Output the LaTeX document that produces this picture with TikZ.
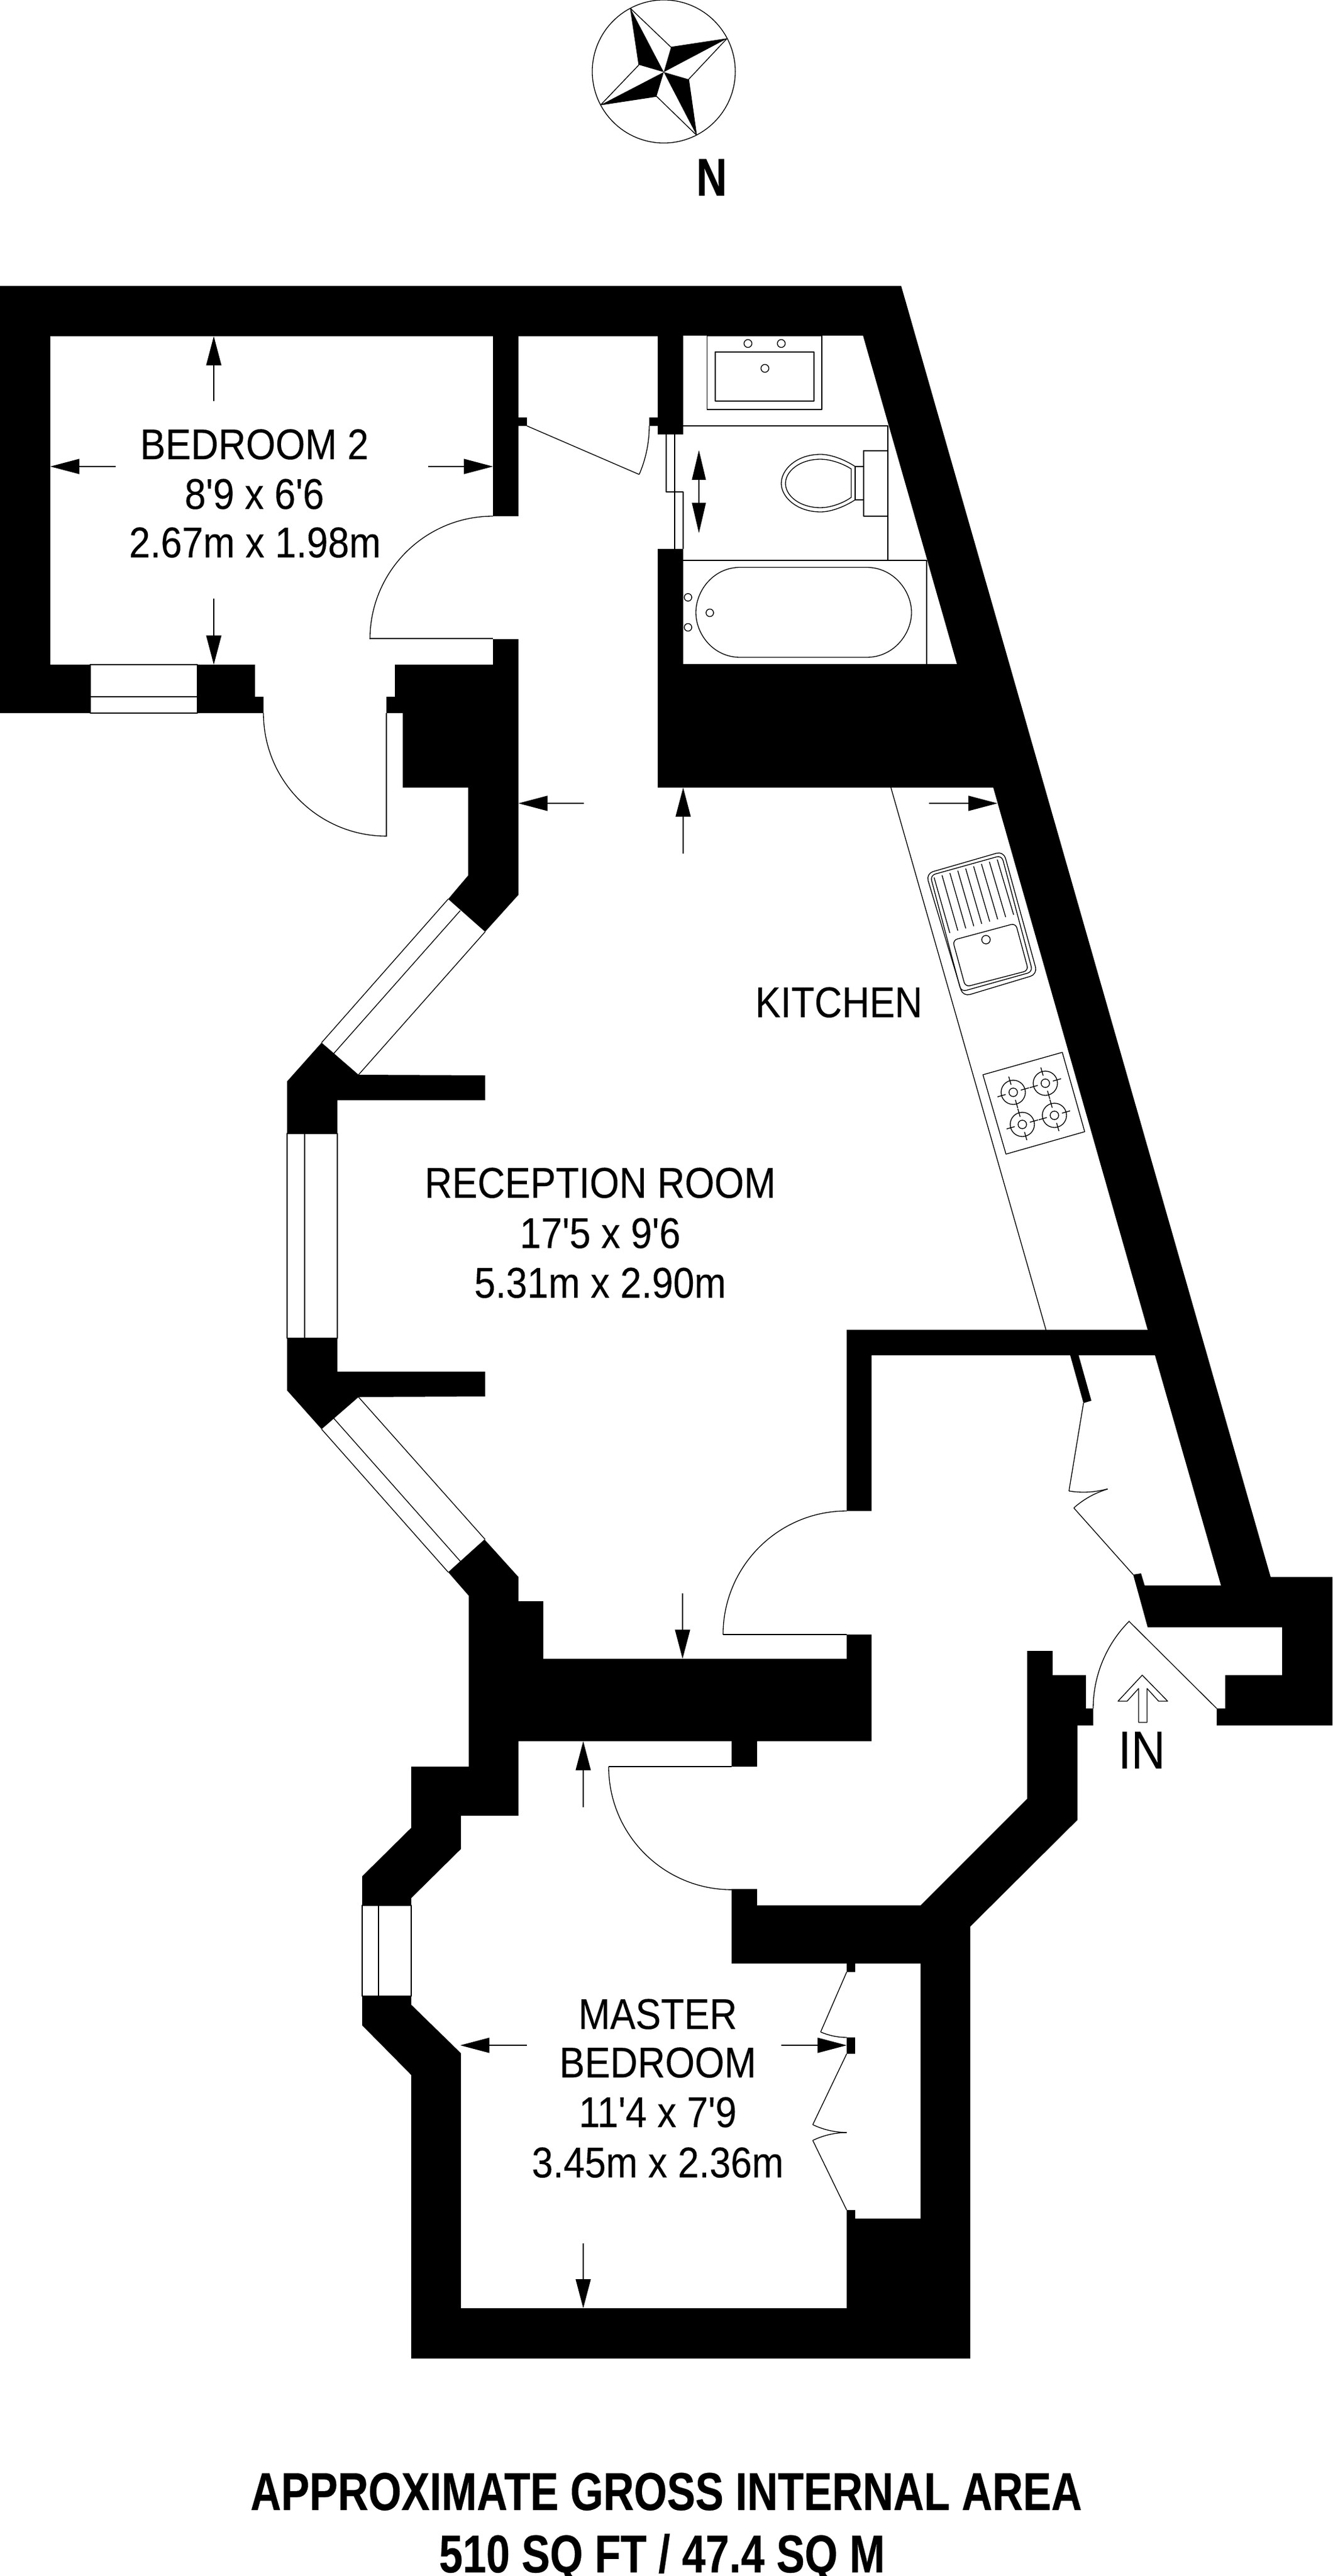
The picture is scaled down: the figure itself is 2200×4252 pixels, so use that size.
\documentclass[tikz,border=0pt]{standalone}
\usepackage{fontspec}
\usetikzlibrary{arrows.meta}
\newfontfamily\labelfont[FakeStretch=0.885,FakeBold=0.12]{Liberation Sans}
\newfontfamily\titlefont[FakeStretch=0.797,FakeBold=0.3]{Liberation Sans}
\tikzset{
  wall/.style={fill=black,draw=none},
  fixture/.style={draw=black,line width=0.38pt,line join=round},
  dimline/.style={draw=black,line width=0.32pt,-{Triangle[length=0.48cm,width=0.25cm]}},
  dimboth/.style={draw=black,line width=0.32pt,{Triangle[length=0.49cm,width=0.23cm]}-{Triangle[length=0.5cm,width=0.23cm]}},
  roomtext/.style={font=\labelfont\fontsize{20.2}{23}\selectfont,inner sep=0pt,anchor=base},
  bigtext/.style={font=\titlefont\bfseries\fontsize{25}{28}\selectfont,inner sep=0pt,anchor=base}
}
\begin{document}
\begin{tikzpicture}[x=0.01cm,y=-0.01cm]
\useasboundingbox (0,0) rectangle (2200,4252);
\fill[white] (0,0) rectangle (2200,4252);

% ---- compass
\draw[fixture] (1096,118) circle[radius=1.18cm];
\coordinate (cc) at (1096,119);
\coordinate (p1) at (1041,14); \coordinate (p2) at (1200,64);
\coordinate (p3) at (1150,223); \coordinate (p4) at (992,173);
\coordinate (n1) at (1108,78); \coordinate (n2) at (1137,131);
\coordinate (n3) at (1084,159); \coordinate (n4) at (1055,107);
\fill[black] (p1) -- (n4) -- (cc) -- cycle;
\fill[black] (p2) -- (n1) -- (cc) -- cycle;
\fill[black] (p3) -- (n2) -- (cc) -- cycle;
\fill[black] (p4) -- (n3) -- (cc) -- cycle;
\draw[fixture] (p1) -- (n1) -- (p2) -- (n2) -- (p3) -- (n3) -- (p4) -- (n4) -- cycle;
\node[bigtext] (north) at (1175,323) {N};

% ---- walls
\fill[wall] (0,472) -- (1488,472) -- (2098,2603) -- (2200,2603) -- (2200,2848) -- (2009,2848) -- (2009,2820)
  -- (2023,2820) -- (2023,2765) -- (2117,2765) -- (2117,2686) -- (1895,2686) -- (1871,2599) -- (1884,2597)
  -- (1890,2617) -- (2016,2617) -- (1907,2237) -- (1781,2237) -- (1802,2312) -- (1789,2316) -- (1767,2237)
  -- (1439,2237) -- (1439,2494) -- (1398,2494) -- (1398,2195) -- (1895,2195) -- (1640,1300) -- (1086,1300)
  -- (1086,906) -- (1128,906) -- (1128,1096) -- (1580,1096) -- (1425,554) -- (1128,554) -- (1128,717)
  -- (1086,717) -- (1086,703) -- (1072,703) -- (1072,689) -- (1086,689) -- (1086,555) -- (856,555)
  -- (856,689) -- (870,689) -- (870,703) -- (856,703) -- (856,852) -- (814,852) -- (814,555) -- (83,555)
  -- (83,1097) -- (149,1097) -- (149,1177) -- (0,1177) -- cycle;
\fill[wall] (326,1097) -- (421,1097) -- (421,1150) -- (435,1150) -- (435,1177) -- (326,1177) -- cycle;
\fill[wall] (652,1097) -- (814,1097) -- (814,1055) -- (856,1055) -- (856,1477) -- (801,1538) -- (740,1484)
  -- (773,1445) -- (773,1300) -- (665,1300) -- (665,1177) -- (638,1177) -- (638,1150) -- (652,1150) -- cycle;
\fill[wall] (531,1721) -- (592,1774) -- (801,1775) -- (801,1816) -- (557,1816) -- (557,1871) -- (474,1871) -- (474,1785) -- cycle;
\fill[wall] (474,2209) -- (557,2209) -- (557,2264) -- (801,2264) -- (801,2305) -- (592,2306) -- (531,2359) -- (474,2295) -- cycle;
\fill[wall] (740,2595) -- (800,2541) -- (856,2603) -- (856,2643) -- (897,2643) -- (897,2738) -- (1398,2738)
  -- (1398,2698) -- (1439,2698) -- (1439,2874) -- (1250,2874) -- (1250,2916) -- (1208,2916) -- (1208,2874)
  -- (856,2874) -- (856,2997) -- (761,2997) -- (761,3052) -- (679,3133) -- (679,3145) -- (598,3145)
  -- (598,3097) -- (679,3017) -- (679,2916) -- (774,2916) -- (774,2634) -- cycle;
\fill[wall] (598,3295) -- (679,3295) -- (679,3309) -- (761,3389) -- (761,3810) -- (1398,3810) -- (1398,3648)
  -- (1412,3648) -- (1412,3662) -- (1520,3662) -- (1520,3241) -- (1412,3241) -- (1412,3255) -- (1398,3255)
  -- (1398,3241) -- (1208,3241) -- (1208,3118) -- (1250,3118) -- (1250,3145) -- (1520,3145) -- (1696,2969)
  -- (1696,2725) -- (1738,2725) -- (1738,2765) -- (1793,2765) -- (1793,2820) -- (1805,2820) -- (1805,2848)
  -- (1779,2848) -- (1779,3004) -- (1602,3180) -- (1602,3893) -- (679,3893) -- (679,3425) -- (598,3343) -- cycle;
\fill[wall] (1398,3363) rectangle (1412,3390);

% ---- windows
\draw[fixture] (149,1097) rectangle (326,1177);
\draw[fixture] (149,1150) -- (326,1150);
\draw[fixture] (474,1871) rectangle (557,2209);
\draw[fixture] (503,1871) -- (503,2209);
\draw[fixture] (598,3145) rectangle (679,3295);
\draw[fixture] (625,3145) -- (625,3295);
\draw[fixture] (740,1484) -- (531,1721);
\draw[fixture] (760,1503) -- (551,1739);
\draw[fixture] (801,1538) -- (592,1774);
\draw[fixture] (740,2595) -- (531,2359);
\draw[fixture] (760,2577) -- (551,2341);
\draw[fixture] (801,2541) -- (592,2306);

% ---- doors
\draw[fixture] (611,1054) -- (814,1054);
\draw[fixture] (814,852) arc[start angle=90,end angle=180,radius=2.03cm];
\draw[fixture] (638,1177) -- (638,1381);
\draw[fixture] (435,1177) arc[start angle=180,end angle=270,radius=2.03cm];
\draw[fixture] (870,703) -- (1055,783);
\draw[fixture] (1072,703) arc[start angle=0,end angle=-23.4,radius=2.02cm];
\draw[fixture] (1194,2698) -- (1398,2698);
\draw[fixture] (1398,2494) arc[start angle=90,end angle=180,radius=2.04cm];
\draw[fixture] (1005,2916) -- (1208,2916);
\draw[fixture] (1005,2916) arc[start angle=180,end angle=270,radius=2.03cm];
\draw[fixture] (2009,2820) -- (1864,2676);
\draw[fixture] (1805,2820) arc[start angle=180,end angle=135,radius=2.04cm];
% closet doors, master bedroom
\draw[fixture] (1398,3255) -- (1355,3354);
\draw[fixture] (1355,3354) arc[start angle=246.5,end angle=270,radius=1.08cm];
\draw[fixture] (1398,3390) -- (1342,3507);
\draw[fixture] (1342,3507) arc[start angle=244.4,end angle=270,radius=1.30cm];
\draw[fixture] (1398,3648) -- (1342,3533);
\draw[fixture] (1342,3533) arc[start angle=116,end angle=90,radius=1.28cm];
% cupboard doors, hall
\draw[fixture] (1789,2316) -- (1765,2461);
\draw[fixture] (1765,2461) arc[start angle=260.6,end angle=285.7,radius=1.47cm];
\draw[fixture] (1871,2599) -- (1773,2489);
\draw[fixture] (1773,2489) arc[start angle=131.7,end angle=106.6,radius=1.47cm];

% ---- bathroom
\draw[fixture] (1167.5,554) rectangle (1357,676);
\draw[fixture] (1181,581) rectangle (1344,662);
\draw[fixture] (1235,567) circle[radius=0.065cm];
\draw[fixture] (1290,567) circle[radius=0.065cm];
\draw[fixture] (1263,608) circle[radius=0.065cm];
\draw[fixture] (1128,703) -- (1466,703) -- (1466,925);
\draw[fixture] (1128,925) -- (1530,925) -- (1530,1096);
\draw[fixture] (1426,744) rectangle (1466,852);
\draw[fixture] (1412,770) -- (1426,770);
\draw[fixture] (1412,825) -- (1426,825);
\draw[fixture] (1412,770) -- (1412,825);
\draw[fixture] (1412,770) .. controls (1392,757) and (1370,750) .. (1355,750) .. controls (1315,750) and (1290,775) .. (1290,798) .. controls (1290,820) and (1315,845) .. (1355,845) .. controls (1370,845) and (1392,838) .. (1412,825);
\draw[fixture] (1405.5,774) .. controls (1388,763) and (1368,758) .. (1355,758) .. controls (1320,758) and (1297,778) .. (1297,798) .. controls (1297,818) and (1320,838) .. (1355,838) .. controls (1368,838) and (1388,833) .. (1405.5,821) -- cycle;
\draw[fixture] (1100,717) -- (1100,812) -- (1128,812) -- (1128,906);
\draw[fixture] (1114,717) -- (1114,906);
\draw[fixture] (1222,936.5) -- (1431,936.5) .. controls (1475,936.5) and (1505,975) .. (1505,1011) .. controls (1505,1047) and (1475,1085) .. (1431,1085) -- (1222,1085) .. controls (1178,1085) and (1149,1047) .. (1149,1011) .. controls (1149,975) and (1178,936.5) .. (1222,936.5) -- cycle;
\draw[fixture] (1136,986) circle[radius=0.062cm];
\draw[fixture] (1136,1035.5) circle[radius=0.062cm];
\draw[fixture] (1172,1011.5) circle[radius=0.062cm];

% ---- kitchen
\draw[fixture] (1471,1300) -- (1727,2195);
\draw[fixture,rounded corners=3.4pt] (1529,1442) -- (1657,1405) -- (1713,1608) -- (1590,1645) -- cycle;
\draw[fixture,rounded corners=2.4pt] (1536,1445) -- (1654,1412) -- (1705,1604) -- (1587,1637) -- cycle;
\draw[fixture,rounded corners=2.2pt] (1573,1552) -- (1677,1524) -- (1698,1602) -- (1594,1629) -- cycle;
\draw[fixture] (1628,1551) circle[radius=0.07cm];
\foreach \i in {0,...,8}
  \draw[fixture] ({1500+(127+39.1*\i)/3},{1380+(205-11.1*\i)/3}) -- ({1500+(205+39.5*\i)/3},{1380+(480-11.25*\i)/3});
\draw[fixture] (1623,1774) -- (1754,1737) -- (1791,1868) -- (1661,1905) -- cycle;
\foreach \cx/\cy in {1673/1803,1726/1788,1741/1841,1688/1856} {
  \draw[fixture] (\cx,\cy) circle[radius=0.2cm];
  \draw[fixture] (\cx,\cy) circle[radius=0.07cm];
  \foreach \a in {16,106,196,286}
    \draw[fixture] ([shift={(\a:0.13cm)}]\cx,\cy) -- ([shift={(\a:0.27cm)}]\cx,\cy);
}

% ---- dimension arrows
\draw[dimline] (353,662) -- (353,555);
\draw[dimline] (191,770) -- (83,770);
\draw[dimline] (707,770) -- (814,770);
\draw[dimline] (353,988) -- (353,1097);
\draw[dimline] (964,1326) -- (856,1326);
\draw[dimline] (1128,1409) -- (1128,1300);
\draw[dimline] (1534,1326) -- (1647,1326);
\draw[dimline] (1127,2630) -- (1127,2738);
\draw[dimline] (963,2983) -- (963,2874);
\draw[dimline] (870,3376) -- (760,3376);
\draw[dimline] (1290,3376) -- (1398,3376);
\draw[dimline] (963,3703) -- (963,3810);
\draw[dimboth] (1154,743) -- (1154,880);

% ---- entrance arrow
\draw[fixture] (1886,2765) -- (1928,2808) -- (1913,2808) -- (1894,2787) -- (1894,2843) -- (1880,2843) -- (1880,2787) -- (1861,2808) -- (1846,2808) -- cycle;

% ---- labels
\node[roomtext] (bed2a) at (420,758) {BEDROOM 2};
\node[roomtext] (bed2b) at (420,840) {8'9 x 6'6};
\node[roomtext] (bed2c) at (421,920) {2.67m x 1.98m};
\node[roomtext] (kitchen) at (1385,1679) {KITCHEN};
\node[roomtext] (reca) at (991,1977) {RECEPTION ROOM};
\node[roomtext] (recb) at (991,2060) {17'5 x 9'6};
\node[roomtext] (recc) at (991,2142) {5.31m x 2.90m};
\node[roomtext] (masa) at (1086,3349) {MASTER};
\node[roomtext] (masb) at (1086,3429) {BEDROOM};
\node[roomtext] (masc) at (1086,3511) {11'4 x 7'9};
\node[roomtext] (masd) at (1086,3594) {3.45m x 2.36m};
\node[roomtext,font=\labelfont\fontsize{25}{28}\selectfont] (entry) at (1885,2919) {IN};
\node[bigtext] (areaa) at (1100,4143) {APPROXIMATE GROSS INTERNAL AREA};
\node[bigtext] (areab) at (1093,4246) {510 SQ FT / 47.4 SQ M};
\end{tikzpicture}
\end{document}
